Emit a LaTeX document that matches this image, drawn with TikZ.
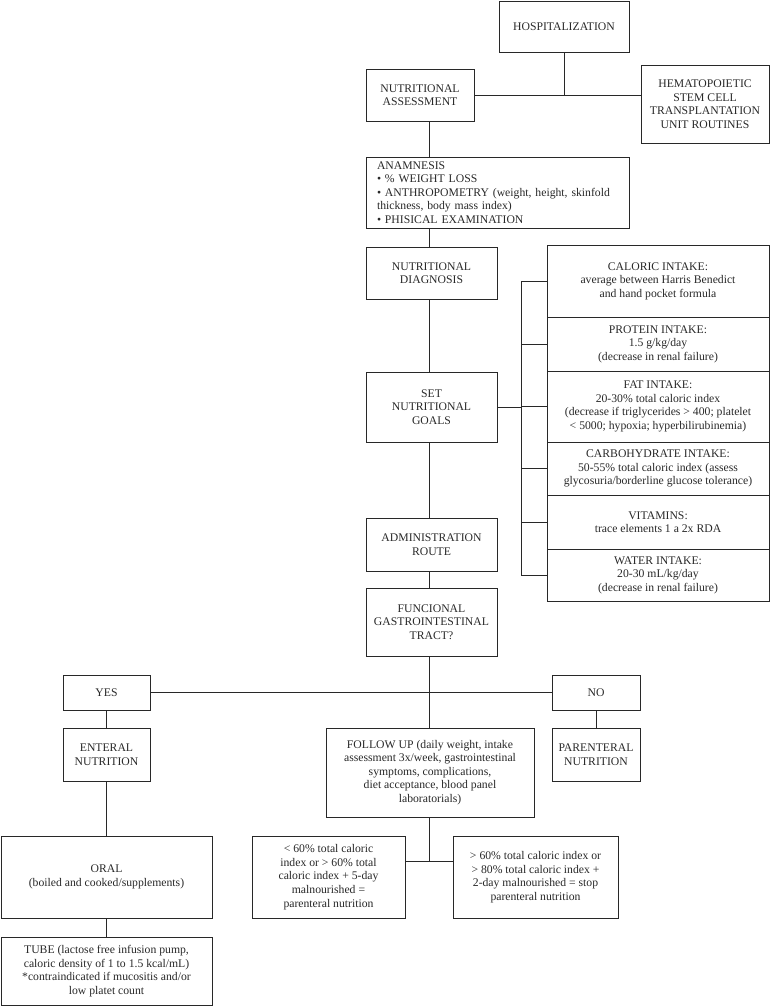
\documentclass[tikz,border=0pt]{standalone}
\usepackage{fontspec}
\setmainfont{Liberation Serif}
\usetikzlibrary{calc,positioning}
\definecolor{flowink}{RGB}{40,40,40}
\tikzset{
 box/.style={draw=flowink,text=flowink,line width=.9pt,align=center,inner sep=2pt},
 link/.style={draw=flowink,line width=.9pt}
}

\begin{document}
\begin{tikzpicture}[x=1pt,y=-1pt,font=\fontsize{11.7}{13.6}\selectfont]
\useasboundingbox (0,0) rectangle (771,1007);
% top of the chart
\node[box,minimum width=130,minimum height=51] (hosp) at (564,27) {HOSPITALIZATION};
\node[box,minimum width=108,minimum height=52] (nassess) at (420,95) {NUTRITIONAL\\ASSESSMENT};
\node[box,minimum width=128,minimum height=78] (hsct) at (705,104)
 {HEMATOPOIETIC\\STEM CELL\\TRANSPLANTATION\\UNIT ROUTINES};
\node[box,minimum width=263,minimum height=71,align=left,text width=241,inner xsep=11pt] (anam) at (497.5,192.5)
 {ANAMNESIS\\\textbullet\ \% WEIGHT LOSS\\\textbullet\ ANTHROPOMETRY (weight, height, skinfold\\thickness, body mass index)\\\textbullet\ PHISICAL EXAMINATION};
% main column
\node[box,minimum width=131,minimum height=52] (ndiag) at (431.5,273) {NUTRITIONAL\\DIAGNOSIS};
\node[box,minimum width=131,minimum height=70] (goals) at (431.5,407) {SET\\NUTRITIONAL\\GOALS};
\node[box,minimum width=131,minimum height=53] (admin) at (431.5,544.5) {ADMINISTRATION\\ROUTE};
\node[box,minimum width=131,minimum height=68] (fgt) at (431.5,622) {FUNCIONAL\\GASTROINTESTINAL\\TRACT?};
% goals column
\node[box,minimum width=222,minimum height=72] (cal) at (658,281)
 {CALORIC INTAKE:\\average between Harris Benedict\\and hand pocket formula};
\node[box,minimum width=222,minimum height=54] (prot) at (658,344)
 {PROTEIN INTAKE:\\1.5 g/kg/day\\(decrease in renal failure)};
\node[box,minimum width=222,minimum height=71] (fat) at (658,406.5)
 {FAT INTAKE:\\20-30\% total caloric index\\(decrease if triglycerides > 400; platelet\\< 5000; hypoxia; hyperbilirubinemia)};
\node[box,minimum width=222,minimum height=53] (carb) at (658,468.5)
 {CARBOHYDRATE INTAKE:\\50-55\% total caloric index (assess\\glycosuria/borderline glucose tolerance)};
\node[box,minimum width=222,minimum height=54] (vit) at (658,522)
 {VITAMINS:\\trace elements 1 a 2x RDA};
\node[box,minimum width=222,minimum height=52] (water) at (658,575)
 {WATER INTAKE:\\20-30 mL/kg/day\\(decrease in renal failure)};
% branches
\node[box,minimum width=87,minimum height=35] (yes) at (106.5,692.5) {YES};
\node[box,minimum width=88,minimum height=35] (no) at (596,692.5) {NO};
\node[box,minimum width=87,minimum height=53] (enteral) at (106.5,754.5) {ENTERAL\\NUTRITION};
\node[box,minimum width=88,minimum height=53] (parent) at (596,754.5) {PARENTERAL\\NUTRITION};
\node[box,minimum width=208,minimum height=89] (follow) at (430,772.5)
 {FOLLOW UP (daily weight, intake\\assessment 3x/week, gastrointestinal\\symptoms, complications,\\diet acceptance, blood panel\\laboratorials)};
\node[box,minimum width=211,minimum height=82] (oral) at (106.5,877)
 {ORAL\\(boiled and cooked/supplements)};
\node[box,minimum width=211,minimum height=68] (tube) at (106.5,971)
 {TUBE (lactose free infusion pump,\\caloric density of 1 to 1.5 kcal/mL)\\*contraindicated if mucositis and/or\\low platet count};
\node[box,minimum width=153,minimum height=82] (lowpn) at (328.5,877)
 {< 60\% total caloric\\index or > 60\% total\\caloric index + 5-day\\malnourished =\\parenteral nutrition};
\node[box,minimum width=165,minimum height=82] (stoppn) at (535.5,877)
 {> 60\% total caloric index or\\> 80\% total caloric index +\\2-day malnourished = stop\\parenteral nutrition};
% connectors
\coordinate (spine) at (429,0);
\coordinate (brace) at (521,0);
\coordinate (fj) at (429,861);
\draw[link] (hosp.south) -- (hosp.south |- nassess.east);
\draw[link] (nassess.east) -- (hsct.west |- nassess.east);
\draw[link] (nassess.south -| spine) -- (anam.north -| spine);
\draw[link] (anam.south -| spine) -- (ndiag.north -| spine);
\draw[link] (ndiag.south -| spine) -- (goals.north -| spine);
\draw[link] (goals.south -| spine) -- (admin.north -| spine);
\draw[link] (admin.south -| spine) -- (fgt.north -| spine);
\draw[link] (fgt.south -| spine) -- (follow.north -| spine);
\draw[link] (goals.east) -- (brace |- goals.east);
\draw[link] (brace |- cal.west) -- (brace |- water.west);
\foreach \n in {cal,prot,fat,carb,vit,water}
 \draw[link] (brace |- \n.west) -- (\n.west);
\draw[link] (yes.east) -- (no.west);
\draw[link] (yes.south) -- (enteral.north);
\draw[link] (no.south) -- (parent.north);
\draw[link] (enteral.south) -- (oral.north);
\draw[link] (oral.south) -- (tube.north);
\draw[link] (follow.south -| spine) -- (fj);
\draw[link] (lowpn.east |- fj) -- (stoppn.west |- fj);
\end{tikzpicture}
\end{document}
